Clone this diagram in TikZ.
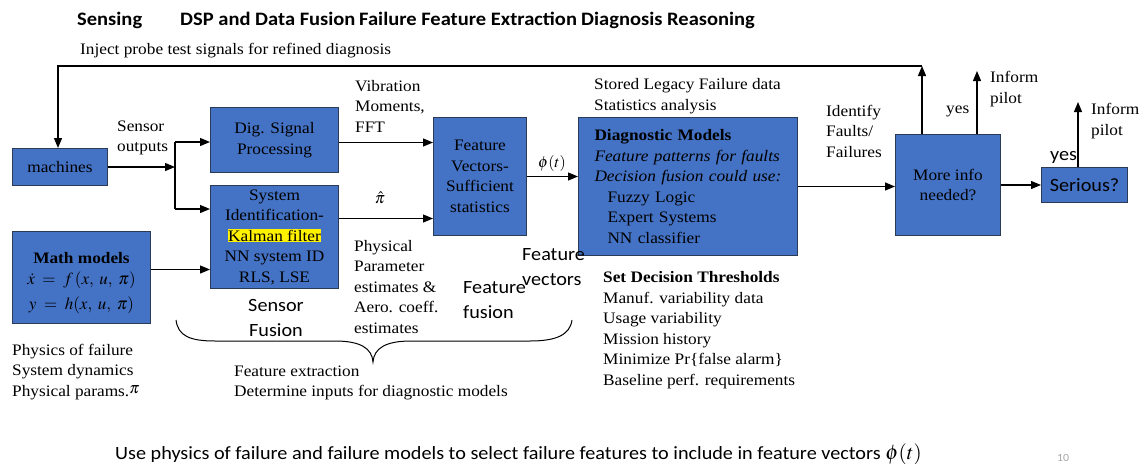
\documentclass[tikz,border=0pt]{standalone}
\usepackage{mathptmx}
\usepackage{fontspec}
\setmainfont[FakeStretch=1.08]{Liberation Serif}
\newfontfamily\calibri[FakeStretch=1.08]{Carlito}
\usetikzlibrary{arrows.meta}
\definecolor{boxblue}{HTML}{4472C4}
\definecolor{boxedge}{HTML}{2B3A55}
\definecolor{pagenum}{HTML}{A6A6A6}

\begin{document}
\begin{tikzpicture}[x=1pt,y=-1pt,
  every node/.style={font=\fontsize{16}{20.5}\selectfont, inner sep=0pt},
  blk/.style={draw=boxedge, line width=1pt, fill=boxblue, align=center, anchor=north west},
  lbl/.style={align=left, anchor=west},
  ln/.style={line width=1.2pt},
  arr/.style={line width=1.2pt, -{Triangle[length=10pt,width=8pt]}},
  head/.style={font=\calibri\bfseries\fontsize{19}{22}\selectfont, anchor=base west},
  cal/.style={font=\calibri\fontsize{18.7}{25}\selectfont}
]
\useasboundingbox (0,0) rectangle (1145,463);

% column headings
\node[head] (h1) at (77,25) {Sensing};
\node[head] (h2) at (180,25) {DSP and Data Fusion};
\node[head] (h3) at (359,25) {Failure Feature Extraction};
\node[head] (h4) at (581,25) {Diagnosis Reasoning};

% blocks
\node[blk, minimum width=95pt, minimum height=37pt] (machines) at (12,148) {machines};
\node[blk, minimum width=128pt, minimum height=65pt] (dsp) at (210,107) {Dig. Signal\\Processing};
\node[blk, minimum width=128pt, minimum height=103pt] (sysid) at (210,185)
  {System\\Identification-\\{\setlength{\fboxsep}{0.6pt}\colorbox{yellow}{Kalman filter}}\\NN system ID\\RLS, LSE};
\node[blk, minimum width=138pt, minimum height=92pt] (math) at (12,231)
  {\rule{0pt}{22pt}\textbf{Math models}\\[1pt]{\fontsize{17}{20}\selectfont$\dot{x} \;=\; f\,(x,\;u,\;\pi)$}\\[4pt]{\fontsize{17}{20}\selectfont$y \;=\; h(x,\;u,\;\pi)$}};
\node[blk, minimum width=93pt, minimum height=118pt] (feat) at (433,117)
  {Feature\\Vectors-\\Sufficient\\statistics};
\node[blk, align=left, text width=195pt, inner xsep=12pt, minimum height=138pt] (diag) at (578,117)
  {\hspace*{4pt}\textbf{Diagnostic Models}\\\hspace*{4pt}\textit{Feature patterns for faults}\\\hspace*{4pt}\textit{Decision fusion could use:}\\
   \hspace*{17pt}Fuzzy Logic\\\hspace*{17pt}Expert Systems\\\hspace*{17pt}NN classifier};
\node[blk, minimum width=105pt, minimum height=101pt] (more) at (895,134) {More info\\needed?};
\node[blk, cal, minimum width=86pt, minimum height=35pt] (serious) at (1041,167) {Serious?};

% branch points and free ends
\coordinate (spmid) at (175,168);
\coordinate (sptop) at (175,142);
\coordinate (spbot) at (175,209);
\coordinate (fbtop) at (922,66);
\coordinate (fbleft) at (58,66);
\coordinate (inf1) at (977,71);
\coordinate (inf2) at (1078,102);

% connectors
\draw[arr] (machines.east) -- (machines.east -| spmid);
\draw[ln] (sptop) -- (spbot);
\draw[arr] (sptop) -- (sptop -| dsp.west);
\draw[arr] (spbot) -- (spbot -| sysid.west);
\draw[arr] ([yshift=8pt]math.east) -- ([yshift=8pt]math.east -| sysid.west);
\draw[arr] ([yshift=-2.5pt]dsp.east) -- ([yshift=-2.5pt]dsp.east -| feat.west);
\draw[arr] ([yshift=18.5pt]sysid.east) -- ([yshift=18.5pt]sysid.east -| feat.west);
\draw[arr] (feat.east) -- (feat.east -| diag.west);
\draw[arr] (diag.east) -- (diag.east -| more.west);
\draw[arr] (more.east) -- (more.east -| serious.west);
\draw[arr] (more.north -| fbtop) -- (fbtop);
\draw[arr] (fbtop) -- (fbleft) -- (fbleft |- machines.north);
\draw[arr] (more.north -| inf1) -- (inf1);
\draw[arr] (serious.north -| inf2) -- (inf2);

% brace under the fusion stage
\draw[line width=1pt] (176,320) .. controls (178,336) and (190,341) .. (215,341) -- (335,341)
  .. controls (360,341) and (372,348) .. (373,362)
  .. controls (374,348) and (386,341) .. (411,341) -- (530,341)
  .. controls (556,341) and (570,335) .. (572,320);

% labels
\node[lbl] (inject) at (80,51) {Inject probe test signals for refined diagnosis};
\node[lbl] (sensout) at (117,138) {Sensor\\outputs};
\node[lbl] (vib) at (355,106) {Vibration\\Moments,\\FFT};
\node (pihat) at (380,198) {$\hat{\pi}$};
\node (phi) at (552,163) {$\phi(t)$};
\node[lbl] (phys) at (354,287) {Physical\\Parameter\\estimates \&\\Aero. coeff.\\estimates};
\node[cal, align=center] (sfus) at (276,318) {Sensor\\Fusion};
\node[cal, align=left, anchor=west] (ffus) at (463,300) {Feature\\fusion};
\node[cal, align=left, anchor=west] (fvec) at (522,267) {Feature\\vectors};
\node[lbl] (fext) at (234,383) {Feature extraction\\Determine inputs for diagnostic models};
\node[lbl] (pof) at (12,372) {Physics of failure\\System dynamics\\Physical params.\raisebox{3pt}{$\pi$}};
\node[lbl] (legacy) at (594,96) {Stored Legacy Failure data\\Statistics analysis};
\node[lbl] (thr) at (603,330) {\textbf{Set Decision Thresholds}\\Manuf. variability data\\Usage variability\\Mission history\\Minimize Pr\{false alarm\}\\Baseline perf. requirements};
\node[lbl] (ident) at (826,131) {Identify\\Faults/\\Failures};
\node[lbl] (yes1) at (946,111) {yes};
\node[lbl] (pilot1) at (990,89) {Inform\\pilot};
\node[lbl] (pilot2) at (1091,121) {Inform\\pilot};
\node[cal, anchor=west] (yes2) at (1050,157) {yes};

% footer
\node[anchor=base west, font=\calibri\fontsize{18.7}{22}\selectfont] (caption) at (115,459)
  {Use physics of failure and failure models to select failure features to include in feature vectors {\fontsize{21}{22}\selectfont$\phi(t)$}};
\node[anchor=base west, font=\calibri\fontsize{11}{12}\selectfont, text=pagenum] (pnum) at (1057,461) {10};
\end{tikzpicture}
\end{document}
